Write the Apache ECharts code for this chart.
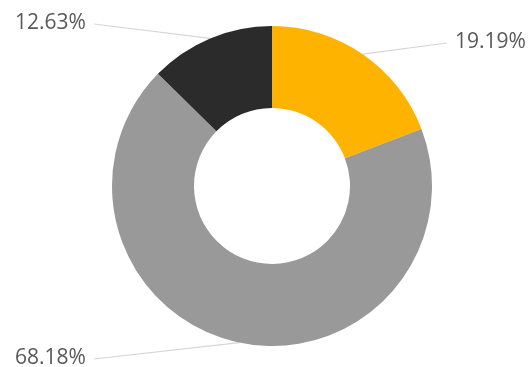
<!DOCTYPE html>
<html>
<head>
<meta charset="utf-8">
<script src="https://cdn.jsdelivr.net/npm/echarts@6/dist/echarts.min.js"></script>
<style>
  html, body { margin: 0; padding: 0; background: #ffffff; }
  #chart { width: 530px; height: 367px; }
</style>
</head>
<body>
<div id="chart"></div>
<script>
// Share of each segment, clockwise from 12 o'clock
const categories = ['A', 'B', 'C'];
const shares = [19.19, 68.18, 12.63];
const colors = ['#FDB300', '#999999', '#2B2B2B'];

// Where each label sits on the canvas (left edge, vertical middle)
const labelSpots = [
  { x: 455, y: 42 },
  { x: 15, y: 358 },
  { x: 15, y: 23 }
];

const center = [272, 186];
const radii = [78, 160];

const chart = echarts.init(document.getElementById('chart'), null, { renderer: 'canvas' });

chart.setOption({
  animation: false,
  backgroundColor: '#ffffff',
  series: [{
    type: 'pie',
    center: center,
    radius: radii,
    startAngle: 90,
    clockwise: true,
    silent: true,
    data: categories.map((name, i) => ({
      name: name,
      value: shares[i],
      itemStyle: { color: colors[i] }
    })),
    label: {
      show: true,
      position: 'outside',
      formatter: (p) => p.value.toFixed(2) + '%',
      fontFamily: '"Open Sans", "Liberation Sans", sans-serif',
      fontSize: 21,
      color: '#595959'
    },
    labelLine: {
      show: true,
      length: 10,
      length2: 10,
      lineStyle: { color: '#D6D6D6', width: 1.2 }
    },
    labelLayout: function (params) {
      const i = params.dataIndex;
      const spot = labelSpots[i];
      const w = params.labelRect.width;
      // start of the guide line: outer rim at the slice's middle angle
      let start;
      if (params.labelLinePoints && params.labelLinePoints[0]) {
        start = params.labelLinePoints[0];
      } else {
        let before = 0;
        for (let k = 0; k < i; k++) before += shares[k];
        const total = shares.reduce((a, b) => a + b, 0);
        const ang = ((before + shares[i] / 2) / total) * Math.PI * 2;
        start = [center[0] + radii[1] * Math.sin(ang), center[1] - radii[1] * Math.cos(ang)];
      }
      const endX = start[0] > spot.x + w ? spot.x + w + 8 : spot.x - 8;
      return {
        x: spot.x,
        y: spot.y,
        align: 'left',
        verticalAlign: 'middle',
        labelLinePoints: [start, [endX, spot.y + 1]]
      };
    }
  }]
});
</script>
</body>
</html>
